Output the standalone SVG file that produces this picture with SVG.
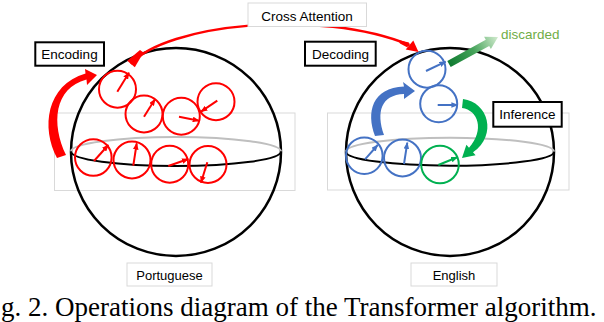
<svg xmlns="http://www.w3.org/2000/svg" width="604" height="322" viewBox="0 0 604 322">
<style>
.bg{fill:#fff;stroke:#d9d9d9;stroke-width:1}
.sphere{fill:none;stroke:#000;stroke-width:2.5}
.back{fill:none;stroke:#bfbfbf;stroke-width:2}
.front{fill:none;stroke:#000;stroke-width:2}
.tok{fill:none;stroke-width:2}
.r{stroke:#ff0000}
.b{stroke:#4472c4}
.g{stroke:#00b050}
.vr{stroke:#ff0000;stroke-width:2;marker-end:url(#hr)}
.vb{stroke:#4472c4;stroke-width:2;marker-end:url(#hb)}
.vg{stroke:#00b050;stroke-width:2;marker-end:url(#hg)}
.lbl{font-family:"Liberation Sans",Arial,sans-serif;font-size:13.5px;fill:#000;text-anchor:middle}
.boxk{fill:#fff;stroke:#000;stroke-width:2}
.boxg{fill:#fff;stroke:#d9d9d9;stroke-width:1}
</style>
<defs>
<marker id="hr" viewBox="0 0 10 8" refX="9" refY="4" markerWidth="3.5" markerHeight="2.8" orient="auto"><path d="M0,0 L10,4 L0,8 z" fill="#ff0000"/></marker>
<marker id="hb" viewBox="0 0 10 8" refX="9" refY="4" markerWidth="3.5" markerHeight="2.8" orient="auto"><path d="M0,0 L10,4 L0,8 z" fill="#4472c4"/></marker>
<marker id="hg" viewBox="0 0 10 8" refX="9" refY="4" markerWidth="3.5" markerHeight="2.8" orient="auto"><path d="M0,0 L10,4 L0,8 z" fill="#00b050"/></marker>
<linearGradient id="disc" gradientUnits="userSpaceOnUse" x1="449" y1="64" x2="498" y2="37">
<stop offset="0" stop-color="#0f7a30"/><stop offset="0.5" stop-color="#45a35a"/><stop offset="1" stop-color="#d4ecd0"/>
</linearGradient>
</defs>

<g id="backgrounds">
<rect class="bg" x="54.5" y="113" width="240.5" height="77.5"/>
<rect class="bg" x="327.5" y="113" width="241.5" height="77"/>
</g>

<g id="sphere-portuguese">
<ellipse class="sphere" cx="176" cy="152" rx="105" ry="104"/>
<path class="back" d="M71 151.5 A105 14.5 0 0 1 281 151.5"/>
<path class="front" d="M71 151.5 A105 14.5 0 0 0 281 151.5"/>
</g>
<g id="sphere-english">
<ellipse class="sphere" cx="450" cy="152" rx="104" ry="104"/>
<path class="back" d="M346 151.7 A104 14 0 0 1 554 151.7"/>
<path class="front" d="M346 151.7 A104 14 0 0 0 554 151.7"/>
</g>

<g id="enc-tokens">
<g id="enc1"><circle class="tok r" cx="117.5" cy="89.2" r="18.5"/><line class="vr" x1="117.3" y1="91.7" x2="129" y2="72.7"/></g>
<g id="enc2"><circle class="tok r" cx="144" cy="114" r="18.5"/><line class="vr" x1="144" y1="116.7" x2="155" y2="99.3"/></g>
<g id="enc3"><circle class="tok r" cx="181.3" cy="116.2" r="18.5"/><line class="vr" x1="179" y1="116.7" x2="199" y2="120.7"/></g>
<g id="enc4"><circle class="tok r" cx="216" cy="101.7" r="18.5"/><line class="vr" x1="217.3" y1="100.7" x2="201" y2="111.7"/></g>
<g id="enc5"><circle class="tok r" cx="93.3" cy="157.5" r="18.3"/><line class="vr" x1="94" y1="161" x2="108.3" y2="145"/></g>
<g id="enc6"><circle class="tok r" cx="132" cy="160" r="18.5"/><line class="vr" x1="133.3" y1="165.7" x2="136.7" y2="143.3"/></g>
<g id="enc7"><circle class="tok r" cx="169.7" cy="164.2" r="18.5"/><line class="vr" x1="168.3" y1="166" x2="188.3" y2="159"/></g>
<g id="enc8"><circle class="tok r" cx="208" cy="164.5" r="18.5"/><line class="vr" x1="207.3" y1="162.3" x2="201" y2="182.7"/></g>
</g>

<g id="dec-tokens">
<g id="dec1"><circle class="tok b" cx="427" cy="69.2" r="18.5"/><line class="vb" x1="426" y1="71" x2="445.7" y2="61.7"/></g>
<g id="dec2"><circle class="tok b" cx="438.7" cy="103.8" r="18.5"/><line class="vb" x1="437.7" y1="105" x2="457.7" y2="105"/></g>
<g id="dec3"><circle class="tok b" cx="364.3" cy="155.7" r="18.3"/><line class="vb" x1="365" y1="159.3" x2="377.7" y2="145"/></g>
<g id="dec4"><circle class="tok b" cx="402.5" cy="158" r="18.5"/><line class="vb" x1="404" y1="164" x2="407.3" y2="142.7"/></g>
<g id="dec5"><circle class="tok g" cx="440" cy="164.5" r="18.8"/><line class="vg" x1="438.3" y1="165" x2="457.3" y2="157.3"/></g>
</g>

<g id="connectors">
<g id="cross-attention-arrow" fill="#ff0000">
<path d="M131 64 C165 24, 320 8, 409.5 45" fill="none" stroke="#ff0000" stroke-width="2.5"/>
<polygon points="127.2,60.75 134.8,67.25 143.5,52.5 140,50"/>
<polygon points="398,40 409,42.5 407.5,47.5 400,43.5"/>
<polygon points="413.3,40.4 418.5,52 405.7,49.6"/>
</g>
<path id="encode-arrow" fill="#ff0000" d="M57 158 C41 128, 46 85, 85.5 73.5 L85 69 L97 75 L87 85 L86.5 79.5 C54 88, 51 124, 66 155 Z"/>
<path id="decode-arrow" fill="#4472c4" d="M375 136 C366 112, 372 88, 404 86.5 L403 82 L415 91 L404 99 L404 94 C381 95, 376 112, 384 135 Z"/>
<path id="inference-arrow" fill="#00b050" d="M463 99 C488 102, 498 135, 473 152.3 L475.6 155.2 L462 158 L466.4 144.8 L469 147.8 C485 130, 478 110, 462 108 Z"/>
<polygon id="discard-arrow" fill="url(#disc)" points="447.3,60.9 485.8,39.7 484.1,36.7 498,37 490.9,48.9 489.2,45.9 450.7,67.1"/>
</g>

<g id="cross-attention"><rect class="boxg" x="248" y="3" width="118.5" height="23.5"/><text class="lbl" x="307" y="20.5">Cross Attention</text></g>
<g id="encoding"><rect class="boxk" x="35.3" y="42.3" width="68.7" height="23.4"/><text class="lbl" x="69.5" y="59">Encoding</text></g>
<g id="decoding"><rect class="boxk" x="305" y="41.7" width="70.7" height="24"/><text class="lbl" x="340.5" y="59">Decoding</text></g>
<g id="inference"><rect class="boxk" x="493.3" y="102" width="68.4" height="24.7"/><text class="lbl" x="527.5" y="119">Inference</text></g>
<g id="discarded"><text x="501" y="39" style="font-family:'Liberation Sans',Arial,sans-serif;font-size:13.5px;fill:#70ad47">discarded</text></g>
<g id="portuguese"><rect class="boxg" x="127" y="263" width="85" height="23"/><text class="lbl" x="169.5" y="279.5" style="font-size:13px">Portuguese</text></g>
<g id="english"><rect class="boxg" x="411" y="263" width="86" height="23"/><text class="lbl" x="454" y="279.5" style="font-size:13px">English</text></g>

<text x="1" y="315.5" style="font-family:'Liberation Serif','Times New Roman',serif;font-size:27px;fill:#000">g. 2. Operations diagram of the Transformer algorithm.</text>
</svg>
